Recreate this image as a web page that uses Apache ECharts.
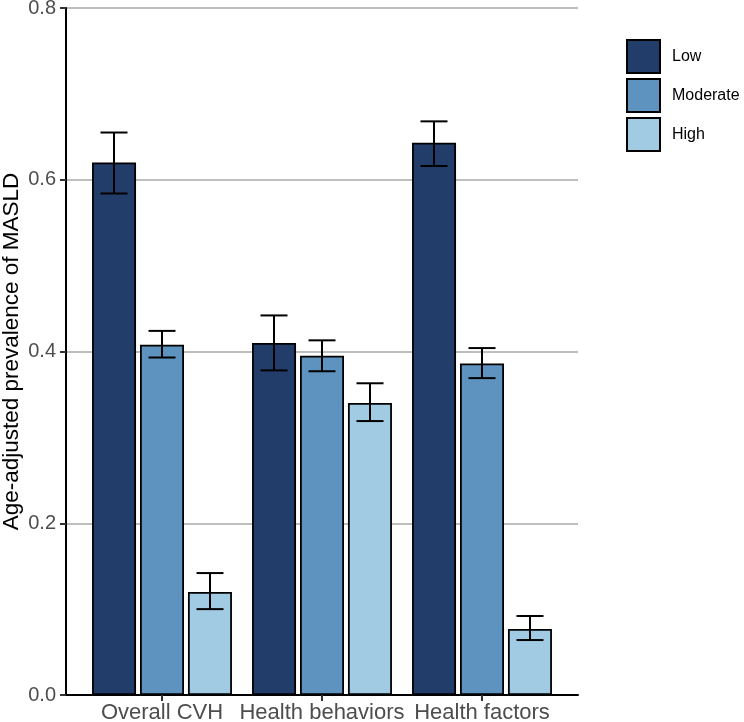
<!DOCTYPE html>
<html>
<head>
<meta charset="utf-8">
<script src="https://cdn.jsdelivr.net/npm/echarts@6/dist/echarts.min.js"></script>
<style>
html,body{margin:0;padding:0;background:#fff;}
#chart{width:744px;height:722px;}
</style>
</head>
<body>
<div id="chart"></div>
<script>
const categories = ['Overall CVH', 'Health behaviors', 'Health factors'];
const groups = ['Low', 'Moderate', 'High'];
const lowVals = [0.620, 0.410, 0.643];
const lowLo = [0.584, 0.378, 0.616];
const lowHi = [0.655, 0.442, 0.668];
const modVals = [0.408, 0.395, 0.386];
const modLo = [0.393, 0.377, 0.369];
const modHi = [0.424, 0.413, 0.404];
const highVals = [0.120, 0.340, 0.077];
const highLo = [0.100, 0.319, 0.064];
const highHi = [0.142, 0.363, 0.092];
const yTicks = [0.0, 0.2, 0.4, 0.6, 0.8];

const colors = ['#233D6B', '#5F93BF', '#A0CBE3'];
const vals = [lowVals, modVals, highVals];
const los = [lowLo, modLo, highLo];
const his = [lowHi, modHi, highHi];

const FONT = 'Liberation Sans, Arial, sans-serif';

const series = [];
groups.forEach(function (g, i) {
  series.push({
    name: g,
    type: 'bar',
    xAxisIndex: 1,
    yAxisIndex: 1,
    data: vals[i],
    barWidth: 44,
    barGap: '9%',
    itemStyle: { color: colors[i], borderColor: '#000', borderWidth: 1.8 },
    emphasis: { disabled: true },
    z: 2
  });
});
groups.forEach(function (g, i) {
  const data = categories.map(function (c, k) { return [k, los[i][k], his[i][k]]; });
  series.push({
    name: g,
    type: 'custom',
    xAxisIndex: 1,
    yAxisIndex: 1,
    data: data,
    z: 5,
    silent: true,
    renderItem: function (params, api) {
      const k = api.value(0);
      const band = api.size([1, 0])[0];
      const off = (i - 1) * band * 0.3;
      const lo = api.coord([k, api.value(1)]);
      const hi = api.coord([k, api.value(2)]);
      const x = lo[0] + off;
      const hw = 13.5;
      const st = { stroke: '#000', lineWidth: 2, fill: null };
      return {
        type: 'group',
        children: [
          { type: 'line', shape: { x1: x, y1: lo[1], x2: x, y2: hi[1] }, style: st },
          { type: 'line', shape: { x1: x - hw, y1: lo[1], x2: x + hw, y2: lo[1] }, style: st },
          { type: 'line', shape: { x1: x - hw, y1: hi[1], x2: x + hw, y2: hi[1] }, style: st }
        ]
      };
    }
  });
});

const option = {
  animation: false,
  backgroundColor: '#fff',
  textStyle: { fontFamily: FONT },
  grid: [
    { left: 66, right: 166, top: 8, bottom: 27, containLabel: false, outerBoundsMode: 'none' },
    { left: 82, right: 182, top: 8, bottom: 27, containLabel: false, outerBoundsMode: 'none' }
  ],
  legend: {
    data: groups,
    orient: 'vertical',
    left: 626,
    top: 39,
    padding: 0,
    itemWidth: 33,
    itemHeight: 33,
    itemGap: 4,
    icon: 'rect',
    itemStyle: { borderColor: '#000', borderWidth: 2 },
    textStyle: { fontFamily: FONT, fontSize: 16, color: '#000', padding: [0, 0, 0, 7] },
    selectedMode: false
  },
  xAxis: [
    {
      type: 'value', gridIndex: 0, min: 0, max: 1,
      axisLine: { show: true, onZero: false, lineStyle: { color: '#000', width: 2 } },
      axisTick: { show: false }, axisLabel: { show: false }, splitLine: { show: false }
    },
    {
      type: 'category', gridIndex: 1, data: categories,
      axisLine: { show: false },
      axisTick: { show: true, alignWithLabel: true, length: 6, lineStyle: { color: '#333', width: 2 } },
      axisLabel: { fontFamily: FONT, fontSize: 22, color: '#4D4D4D', margin: 7, interval: 0 },
      splitLine: { show: false }
    }
  ],
  yAxis: [
    {
      type: 'value', gridIndex: 0, min: 0, max: 0.8, interval: 0.2,
      name: 'Age-adjusted prevalence of MASLD',
      nameLocation: 'middle',
      nameGap: 43,
      nameMoveOverlap: false,
      nameTextStyle: { fontFamily: FONT, fontSize: 22.5, color: '#000' },
      axisLine: { show: true, lineStyle: { color: '#000', width: 2 } },
      axisTick: { show: true, length: 6, lineStyle: { color: '#333', width: 2 } },
      axisLabel: {
        fontFamily: FONT, fontSize: 20, color: '#4D4D4D', margin: 10,
        formatter: function (v) { return v.toFixed(1); }
      },
      splitLine: { show: true, lineStyle: { color: '#BEBEBE', width: 2 } }
    },
    {
      type: 'value', gridIndex: 1, min: 0, max: 0.8, interval: 0.2,
      show: false, splitLine: { show: false }
    }
  ],
  series: series
};

const chart = echarts.init(document.getElementById('chart'), null, { renderer: 'canvas' });
chart.setOption(option);
</script>
</body>
</html>
